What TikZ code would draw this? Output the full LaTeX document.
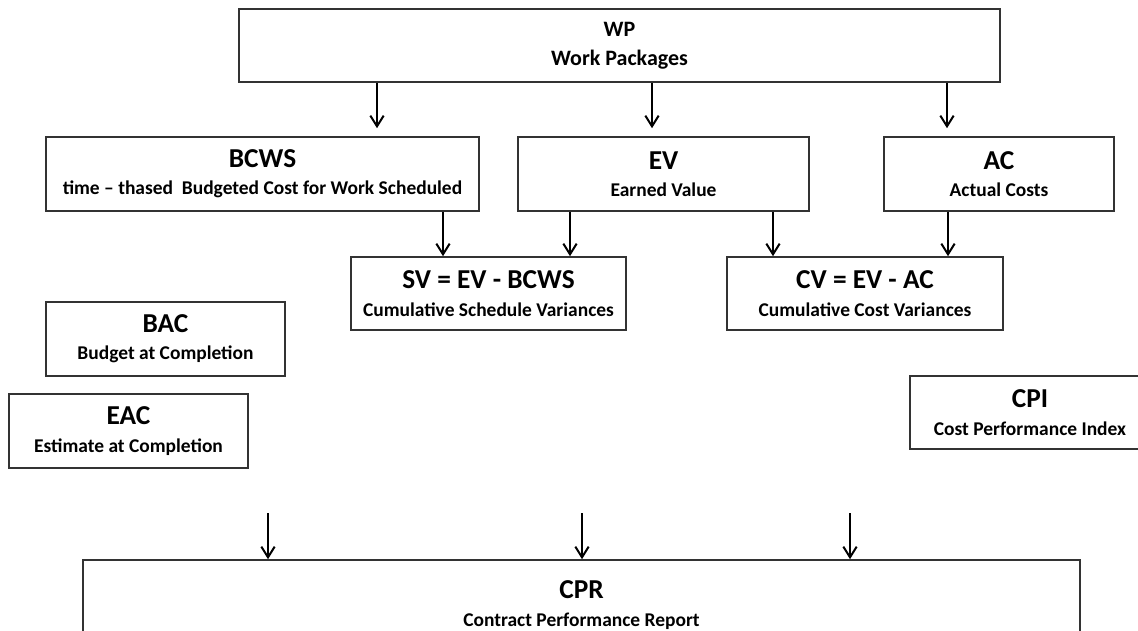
\documentclass[tikz,border=0pt]{standalone}
\usepackage{fontspec}
\setmainfont{Carlito}
\usetikzlibrary{arrows.meta}
% two-line box label: large title over a smaller caption
\newcommand\bxtxt[2]{{\fontsize{20.5}{22}\selectfont #1}\\[2.5pt]#2}
\begin{document}
\begin{tikzpicture}[x=0.75pt,y=-0.75pt,
  box/.style={draw=black!80, line width=1.2pt, fill=white, inner sep=0pt,
    align=center, font=\fontsize{14.6}{18}\selectfont\bfseries},
  size/.style 2 args={minimum width=#1*0.75pt, minimum height=#2*0.75pt},
  arr/.style={draw=black, line width=1.5pt, -{Straight Barb[length=8pt,width=10pt]}},
]
\useasboundingbox (0,0) rectangle (1138,631);
\clip (0,0) rectangle (1138,631);

% boxes
\node[box, size={761}{73}, font=\fontsize{16.5}{19}\selectfont\bfseries] (wp) at (619.5,45.5) {WP\\[2.5pt]Work Packages};
\node[box, size={433}{74}] (bcws) at (262.5,174) {\bxtxt{BCWS}{time -- thased\ \ Budgeted Cost for Work Scheduled}};
\node[box, size={291}{74}] (ev) at (663.5,174) {\bxtxt{EV}{Earned Value}};
\node[box, size={230}{74}] (ac) at (999,174) {\bxtxt{AC}{Actual Costs}};
\node[box, size={275}{73}] (sv) at (488.5,293.5) {\bxtxt{SV = EV - BCWS}{Cumulative Schedule Variances}};
\node[box, size={276}{73}] (cv) at (865,293.5) {\bxtxt{CV = EV - AC}{Cumulative Cost Variances}};
\node[box, size={239}{74}] (bac) at (165.5,339) {\bxtxt{BAC}{Budget at Completion}};
\node[box, size={239}{74}] (eac) at (128.5,431) {\bxtxt{EAC}{Estimate at Completion}};
\node[box, size={240}{73}] (cpi) at (1030,412.5) {\bxtxt{CPI}{Cost Performance Index}};
\node[box, size={997}{90}] (cpr) at (581.5,605) {\bxtxt{CPR}{Contract Performance Report}};

% arrow columns
\coordinate (t1) at (377,0);
\coordinate (t2) at (652,0);
\coordinate (t3) at (947,0);
\coordinate (m1) at (443,0);
\coordinate (m2) at (570,0);
\coordinate (m3) at (773,0);
\coordinate (m4) at (948,0);
\coordinate (b1) at (268,513);
\coordinate (b2) at (582,513);
\coordinate (b3) at (850,513);

\draw[arr, shorten >=6pt] (wp.south -| t1) -- (bcws.north -| t1);
\draw[arr, shorten >=6pt] (wp.south -| t2) -- (ev.north -| t2);
\draw[arr, shorten >=6pt] (wp.south -| t3) -- (ac.north -| t3);

\draw[arr] (bcws.south -| m1) -- (sv.north -| m1);
\draw[arr] (ev.south -| m2) -- (sv.north -| m2);
\draw[arr] (ev.south -| m3) -- (cv.north -| m3);
\draw[arr] (ac.south -| m4) -- (cv.north -| m4);

\draw[arr] (b1) -- (cpr.north -| b1);
\draw[arr] (b2) -- (cpr.north -| b2);
\draw[arr] (b3) -- (cpr.north -| b3);
\end{tikzpicture}
\end{document}
